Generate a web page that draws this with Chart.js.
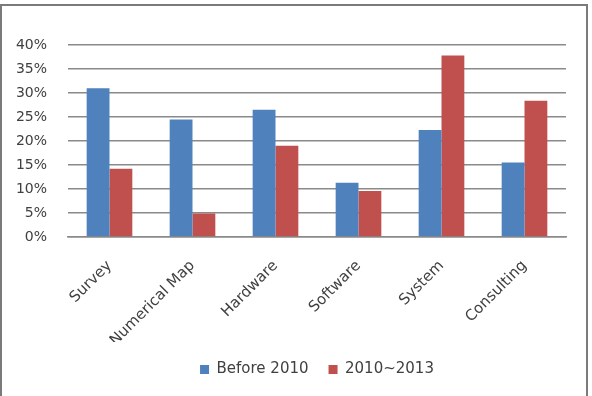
<!DOCTYPE html>
<html>
<head>
<meta charset="utf-8">
<script src="https://cdn.jsdelivr.net/npm/chart.js@4.4.0/dist/chart.umd.min.js"></script>
<style>
  html, body { margin: 0; padding: 0; background: #fff; }
  #wrap { position: relative; width: 592px; height: 396px; overflow: hidden; }
  #frame { position: absolute; left: 0; top: 4px; width: 584px; height: 420px; border: 2px solid #7a7a7a; }
  #myChart { position: absolute; left: 0; top: 0; }
</style>
</head>
<body>
<div id="wrap">
  <div id="frame"></div>
  <canvas id="myChart" width="592" height="396"></canvas>
</div>
<script>
// chart data
var categories = ['Survey', 'Numerical Map', 'Hardware', 'Software', 'System', 'Consulting'];
var before2010 = [31.0, 24.5, 26.5, 11.3, 22.3, 15.5];
var from2010 = [14.2, 4.9, 19.0, 9.6, 37.8, 28.4];
var yTicks = [0, 5, 10, 15, 20, 25, 30, 35, 40];

var textColor = '#404040';
var fontFamily = '"DejaVu Sans", Verdana, sans-serif';

// move the legend so it is centred under the plot area, as in the original
var legendShift = {
    id: 'legendShift',
    afterLayout: function (chart) {
        var a = chart.chartArea;
        var lg = chart.legend;
        var shift = (a.left + a.right) / 2 - (lg.left + lg.right) / 2;
        lg.left += shift;
        lg.right += shift;
    }
};

var ctx = document.getElementById('myChart').getContext('2d');
var myChart = new Chart(ctx, {
    type: 'bar',
    data: {
        labels: categories,
        datasets: [{
            label: 'Before 2010',
            data: before2010,
            backgroundColor: '#4F81BD',
            categoryPercentage: 0.55,
            barPercentage: 1.0
        }, {
            label: '2010~2013',
            data: from2010,
            backgroundColor: '#C0504D',
            categoryPercentage: 0.55,
            barPercentage: 1.0
        }]
    },
    plugins: [legendShift],
    options: {
        responsive: false,
        animation: false,
        layout: {
            padding: { left: 0, right: 26, top: 45, bottom: 9 }
        },
        plugins: {
            tooltip: { enabled: false },
            legend: {
                position: 'bottom',
                labels: {
                    boxWidth: 9,
                    boxHeight: 9,
                    padding: 20,
                    color: textColor,
                    font: { family: fontFamily, size: 15 }
                }
            }
        },
        scales: {
            x: {
                grid: { display: false, drawTicks: false },
                border: { display: true, color: '#8a8a8a', width: 1.5 },
                ticks: {
                    color: textColor,
                    font: { family: fontFamily, size: 15 },
                    maxRotation: 45,
                    minRotation: 45,
                    padding: 20
                },
                afterFit: function (scale) { scale.height = 105; }
            },
            y: {
                min: 0,
                max: 40,
                afterBuildTicks: function (scale) {
                    scale.ticks = yTicks.map(function (v) { return { value: v }; });
                },
                grid: { color: '#8a8a8a', lineWidth: 1.5, drawTicks: false },
                border: { display: false },
                ticks: {
                    color: textColor,
                    font: { family: fontFamily, size: 14 },
                    padding: 21,
                    callback: function (v) { return v + '%'; }
                },
                afterFit: function (scale) { scale.width = 68; }
            }
        }
    }
});
</script>
</body>
</html>
